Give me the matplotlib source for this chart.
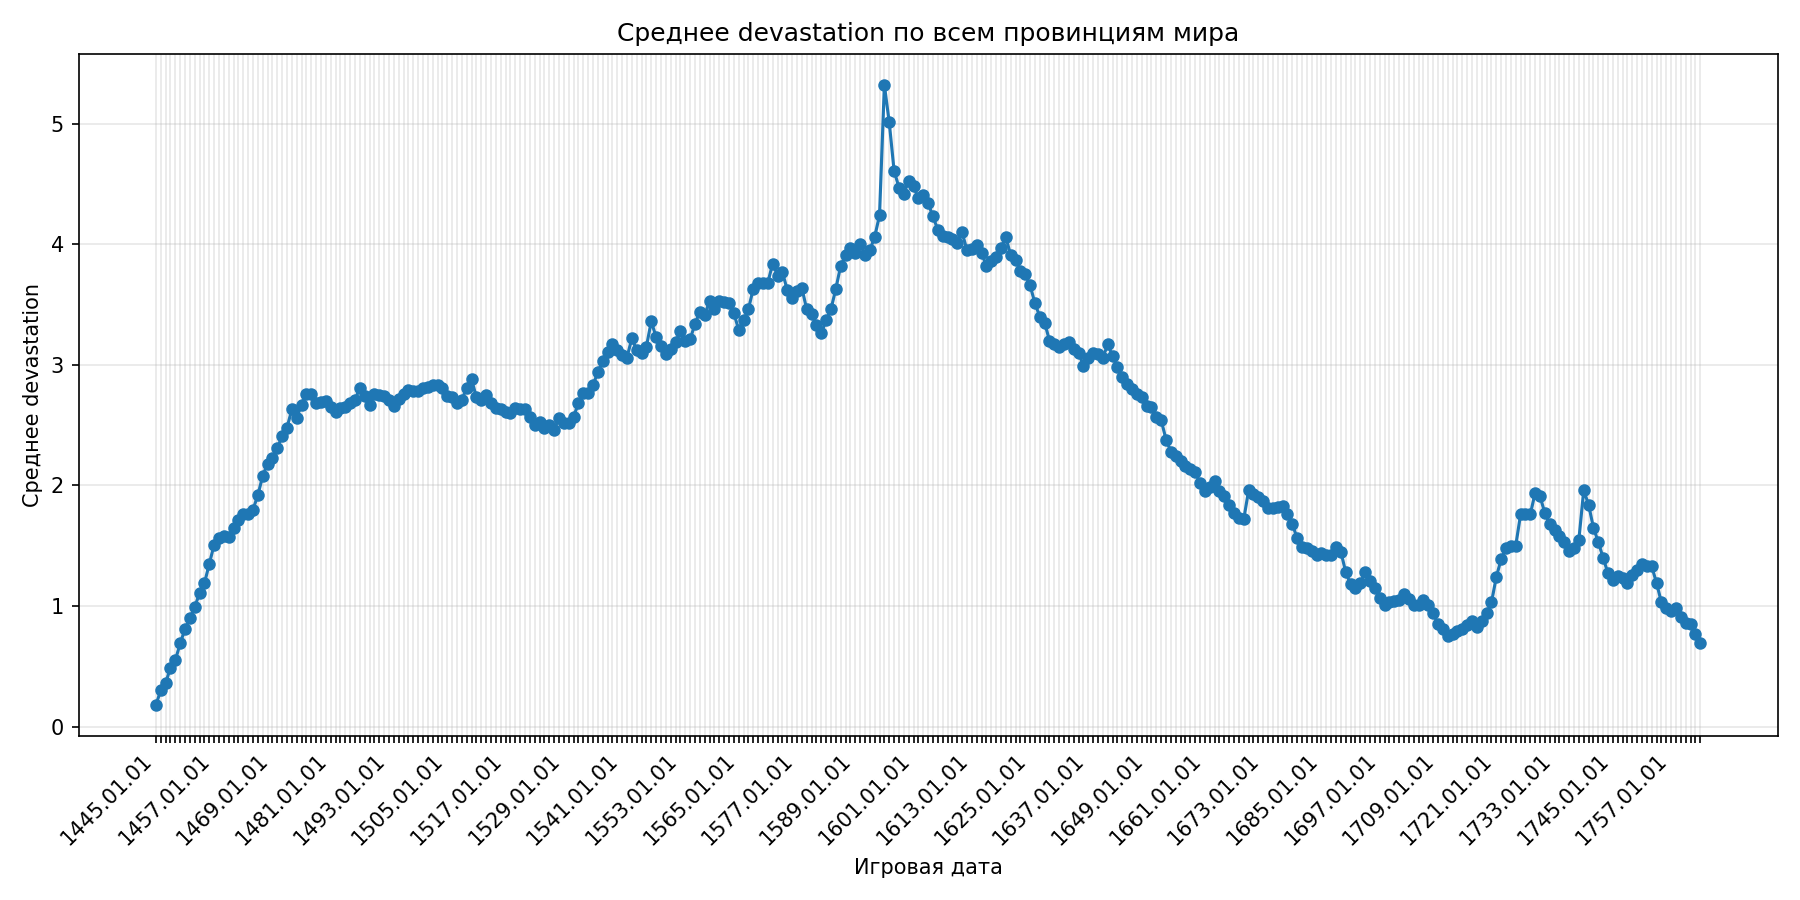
import matplotlib
matplotlib.use("Agg")
import matplotlib.pyplot as plt

# game dates, one sample per year
years = list(range(1445, 1764))
dates = [f"{y}.01.01" for y in years]

# mean devastation over all provinces
avg_devastation = [
    0.18, 0.30, 0.36, 0.49, 0.55, 0.69, 0.81, 0.90, 0.99, 1.11,
    1.19, 1.35, 1.51, 1.56, 1.58, 1.57, 1.65, 1.71, 1.76, 1.76,
    1.80, 1.92, 2.08, 2.18, 2.23, 2.31, 2.41, 2.48, 2.63, 2.56,
    2.67, 2.76, 2.76, 2.68, 2.69, 2.70, 2.65, 2.61, 2.64, 2.65,
    2.68, 2.71, 2.81, 2.74, 2.67, 2.76, 2.75, 2.74, 2.71, 2.66,
    2.72, 2.76, 2.79, 2.78, 2.78, 2.81, 2.82, 2.83, 2.83, 2.81,
    2.74, 2.73, 2.68, 2.71, 2.81, 2.88, 2.73, 2.71, 2.75, 2.68,
    2.64, 2.63, 2.61, 2.60, 2.64, 2.63, 2.63, 2.57, 2.50, 2.53,
    2.48, 2.50, 2.46, 2.56, 2.52, 2.52, 2.57, 2.68, 2.77, 2.77,
    2.83, 2.94, 3.03, 3.11, 3.17, 3.12, 3.08, 3.06, 3.22, 3.12,
    3.10, 3.15, 3.36, 3.23, 3.16, 3.09, 3.13, 3.19, 3.28, 3.20,
    3.21, 3.34, 3.44, 3.41, 3.53, 3.46, 3.53, 3.52, 3.51, 3.43,
    3.29, 3.37, 3.46, 3.63, 3.68, 3.68, 3.68, 3.84, 3.74, 3.77,
    3.62, 3.55, 3.61, 3.64, 3.46, 3.42, 3.33, 3.26, 3.37, 3.46,
    3.63, 3.82, 3.91, 3.97, 3.93, 4.00, 3.91, 3.95, 4.06, 4.24,
    5.32, 5.01, 4.61, 4.47, 4.42, 4.52, 4.48, 4.38, 4.41, 4.34,
    4.23, 4.12, 4.07, 4.06, 4.04, 4.01, 4.10, 3.95, 3.96, 3.99,
    3.93, 3.82, 3.86, 3.89, 3.97, 4.06, 3.91, 3.87, 3.78, 3.75,
    3.66, 3.51, 3.40, 3.35, 3.20, 3.17, 3.15, 3.17, 3.19, 3.13,
    3.10, 2.99, 3.06, 3.10, 3.09, 3.06, 3.17, 3.07, 2.98, 2.90,
    2.84, 2.80, 2.76, 2.73, 2.66, 2.65, 2.57, 2.54, 2.38, 2.28,
    2.24, 2.20, 2.16, 2.14, 2.11, 2.02, 1.95, 1.99, 2.04, 1.95,
    1.91, 1.84, 1.77, 1.73, 1.72, 1.96, 1.93, 1.90, 1.87, 1.81,
    1.81, 1.82, 1.83, 1.76, 1.68, 1.56, 1.49, 1.48, 1.46, 1.42,
    1.44, 1.42, 1.42, 1.49, 1.45, 1.28, 1.18, 1.15, 1.19, 1.28,
    1.21, 1.15, 1.07, 1.01, 1.03, 1.04, 1.05, 1.10, 1.06, 1.01,
    1.01, 1.05, 1.01, 0.94, 0.85, 0.81, 0.75, 0.77, 0.79, 0.81,
    0.84, 0.88, 0.83, 0.88, 0.94, 1.03, 1.24, 1.39, 1.48, 1.50,
    1.50, 1.76, 1.76, 1.76, 1.94, 1.91, 1.77, 1.68, 1.63, 1.58,
    1.53, 1.46, 1.48, 1.55, 1.96, 1.84, 1.65, 1.53, 1.40, 1.27,
    1.22, 1.25, 1.23, 1.19, 1.26, 1.30, 1.35, 1.33, 1.33, 1.19,
    1.03, 0.98, 0.96, 0.98, 0.91, 0.86, 0.85, 0.77, 0.69,
]

label_step = 12

fig, ax = plt.subplots(figsize=(12, 6), dpi=150)
x = list(range(len(dates)))
ax.plot(x, avg_devastation, marker="o", markersize=5, linewidth=1.5)

ax.set_title("Среднее devastation по всем провинциям мира")
ax.set_xlabel("Игровая дата")
ax.set_ylabel("Среднее devastation")

# tick on every date, label only every 12th
ax.set_xticks(x)
ax.set_xticklabels(
    [d if i % label_step == 0 else "" for i, d in enumerate(dates)],
    rotation=45, ha="right",
)
ax.grid(True, alpha=0.3)

plt.tight_layout()
plt.savefig("out.png", dpi=150)
